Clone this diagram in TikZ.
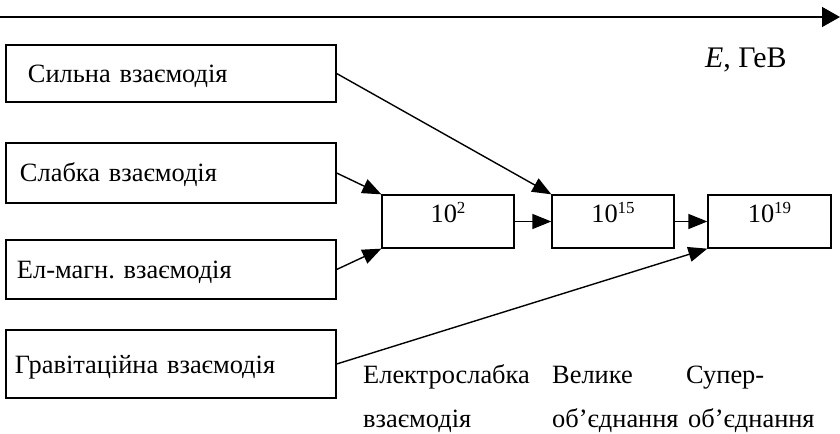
\documentclass[tikz,border=0pt]{standalone}
\usepackage{fontspec}
\setmainfont{Liberation Serif}
\usetikzlibrary{arrows.meta}
\newcommand\supr[1]{\raisebox{9bp}{\fontsize{17}{17}\selectfont #1}}
\frenchspacing
\begin{document}
\begin{tikzpicture}[x=1bp,y=-1bp,
  every node/.style={font=\fontsize{26.5}{30}\selectfont},
  lbox/.style={draw, line width=1.3bp, align=left, inner ysep=0pt, text height=18bp, text depth=0pt},
  nbox/.style={draw, line width=1.3bp, inner sep=0pt, minimum height=53bp, text height=18bp, text depth=15bp},
  conn/.style={line width=1.4bp, -{Triangle[length=19bp,width=15bp]}},
  axis/.style={line width=1.5bp, -{Triangle[length=18bp,width=20bp]}},
  lbl/.style={anchor=base west, inner sep=0pt}]
\useasboundingbox (0,0) rectangle (840,434);
% axis
\coordinate (ax0) at (0,17);
\coordinate (ax1) at (840,17);
\draw[axis] (ax0) -- (ax1);
\node[lbl, font=\fontsize{30}{34}\selectfont] (elab) at (705,68) {\textit{E}, ГеВ};
% interaction boxes
\node[lbox, inner xsep=22bp, text width=286bp, minimum height=57bp] (s) at (171,73.5) {Сильна взаємодія};
\node[lbox, inner xsep=14bp, text width=302bp, minimum height=60bp] (w) at (171,173) {Слабка взаємодія};
\node[lbox, inner xsep=11bp, text width=308bp, minimum height=59bp] (em) at (171,269.5) {Ел-магн. взаємодія};
\node[lbox, inner xsep=9bp, text width=312bp, minimum height=68bp] (g) at (171,364) {Гравітаційна взаємодія};
% energy boxes
\node[nbox, minimum width=132bp] (a) at (448,221.5) {10\supr{2}};
\node[nbox, minimum width=122bp] (b) at (613,221.5) {10\supr{15}};
\node[nbox, minimum width=123bp] (c) at (769.5,221.5) {10\supr{19}\hspace{17bp}};
% connectors
\draw[conn] (s.east) -- (b.north west);
\draw[conn] (w.east) -- (a.north west);
\draw[conn] (em.east) -- (a.south west);
\draw[conn] (g.east) -- (c.south west);
\draw[conn] (a.east) -- (b.west);
\draw[conn] (b.east) -- (c.west);
% bottom labels
\node[lbl] (l1a) at (363,384) {Електрослабка};
\node[lbl] (l1b) at (363,427) {взаємодія};
\node[lbl] (l2a) at (552,384) {Велике};
\node[lbl] (l2b) at (552,427) {об’єднання};
\node[lbl] (l3a) at (686,384) {Супер-};
\node[lbl] (l3b) at (688,427) {об’єднання};
\end{tikzpicture}
\end{document}
